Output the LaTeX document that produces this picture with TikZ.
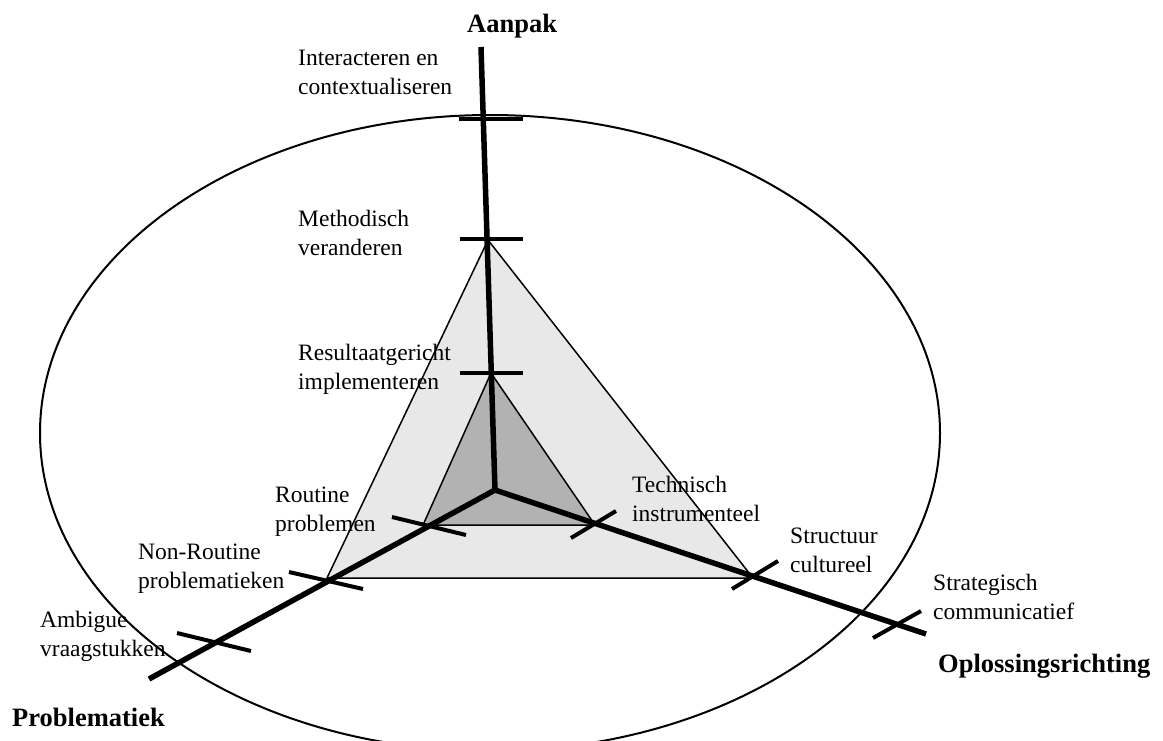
\documentclass[tikz,border=0pt]{standalone}
\usepackage{fontspec}
\setmainfont{Liberation Serif}
\definecolor{lightfill}{gray}{0.91}
\definecolor{darkfill}{gray}{0.70}
\newcommand{\twolines}[2]{\begin{tabular}[t]{@{}l@{}}#1\\#2\end{tabular}}
\begin{document}
\begin{tikzpicture}[x=1pt,y=-1pt,
  lbl/.style={anchor=base west, inner sep=0pt, font=\fontsize{23.5}{29}\selectfont},
  ttl/.style={anchor=base west, inner sep=0pt, font=\fontsize{26.5}{32}\selectfont\bfseries},
  axisline/.style={line width=5.5pt},
  tickline/.style={line width=4pt},
  edgeline/.style={draw=black, line width=1.5pt, line join=miter},
  rim/.style={line width=2pt},
]
\useasboundingbox (0,0) rectangle (1163,740);
\clip (0,0) rectangle (1163,740);
\fill[white] (0,0) rectangle (1163,740);

% axis points
\coordinate (C) at (495,490);
\coordinate (Atop) at (481,47);
\coordinate (Pend) at (149,679);
\coordinate (Oend) at (926,634);
% outer triangle
\coordinate (T1) at (488,240);
\coordinate (T2) at (327,578);
\coordinate (T3) at (753,578);
% inner triangle
\coordinate (I1) at (491,373);
\coordinate (I2) at (423,525);
\coordinate (I3) at (595,525);

\fill[lightfill] (T1) -- (T2) -- (T3) -- cycle;
\fill[darkfill] (I1) -- (I2) -- (I3) -- cycle;

% labels
\node[ttl] (aanpak) at (467,32) {Aanpak};
\node[lbl] (interact) at (298,65) {\twolines{Interacteren en}{contextualiseren}};
\node[lbl] (method) at (298,226) {\twolines{Methodisch}{veranderen}};
\node[lbl] (result) at (298,360) {\twolines{Resultaatgericht}{implementeren}};
\node[lbl] (routine) at (275,502) {\twolines{Routine}{problemen}};
\node[lbl] (nonroutine) at (138,559) {\twolines{Non-Routine}{problematieken}};
\node[lbl] (ambigue) at (40,627) {\twolines{Ambigue}{vraagstukken}};
\node[ttl] (problematiek) at (12,726) {Problematiek};
\node[lbl] (technisch) at (632,492) {\twolines{Technisch}{instrumenteel}};
\node[lbl] (structuur) at (790,543) {\twolines{Structuur}{cultureel}};
\node[lbl] (strategisch) at (933,590) {\twolines{Strategisch}{communicatief}};
\node[ttl] (oplossing) at (938,672) {Oplossingsrichting};

% triangle edges
\draw[edgeline] (T1) -- (T2) -- (T3) -- cycle;
\draw[edgeline] (I1) -- (I2) -- (I3) -- cycle;

% axes
\draw[axisline] (C) -- (Atop);
\draw[axisline] (C) -- (Pend);
\draw[axisline] (C) -- (Oend);

% ticks on vertical axis
\coordinate (a1l) at (459,119); \coordinate (a1r) at (523,119);
\coordinate (a2l) at (460,239); \coordinate (a2r) at (523,239);
\coordinate (a3l) at (460,373); \coordinate (a3r) at (523,373);
\draw[tickline] (a1l) -- (a1r);
\draw[tickline] (a2l) -- (a2r);
\draw[tickline] (a3l) -- (a3r);
% ticks on lower-left axis
\coordinate (p1l) at (392,517); \coordinate (p1r) at (466,535);
\coordinate (p2l) at (289,572); \coordinate (p2r) at (363,589);
\coordinate (p3l) at (177,633); \coordinate (p3r) at (251,651);
\draw[tickline] (p1l) -- (p1r);
\draw[tickline] (p2l) -- (p2r);
\draw[tickline] (p3l) -- (p3r);
% ticks on right axis
\coordinate (o1l) at (571,538); \coordinate (o1r) at (616,511);
\coordinate (o2l) at (732,589); \coordinate (o2r) at (778,561);
\coordinate (o3l) at (873,638); \coordinate (o3r) at (921,611);
\draw[tickline] (o1l) -- (o1r);
\draw[tickline] (o2l) -- (o2r);
\draw[tickline] (o3l) -- (o3r);

% ellipse
\draw[rim] (490,433) ellipse [x radius=450, y radius=318];
\end{tikzpicture}
\end{document}
